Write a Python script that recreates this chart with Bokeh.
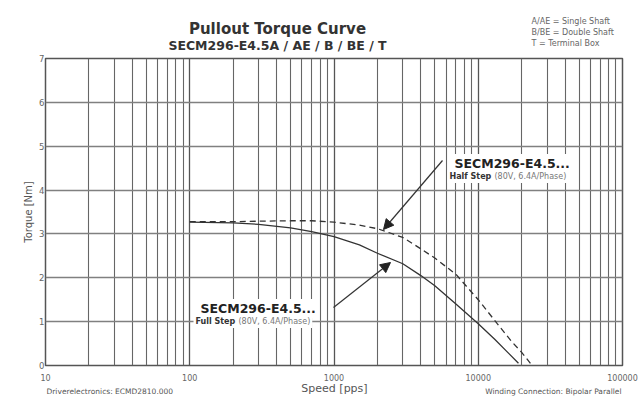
from bokeh.plotting import figure
from bokeh.models import FixedTicker, Label, Arrow, NormalHead, Range1d
from bokeh.layouts import column
from bokeh.embed import file_html
from bokeh.resources import INLINE

# ---- data ----
full_speed = [100, 200, 300, 500, 700, 1000, 1500, 2000, 3000, 4000, 5000, 7000, 10000, 13000, 16000, 19000]
full_torque = [3.27, 3.25, 3.22, 3.14, 3.05, 2.94, 2.75, 2.56, 2.32, 2.05, 1.82, 1.40, 0.95, 0.60, 0.30, 0.05]
half_speed = [100, 200, 300, 500, 700, 1000, 1500, 2000, 3000, 4000, 5000, 7000, 10000, 13500, 17000, 20000, 23000]
half_torque = [3.28, 3.28, 3.29, 3.30, 3.30, 3.27, 3.20, 3.12, 2.92, 2.66, 2.45, 2.08, 1.50, 0.96, 0.55, 0.30, 0.05]
x_ticks = [10, 100, 1000, 10000, 100000]
x_tick_labels = ["10", "100", "1000", "10000", "100000"]
y_ticks = [0, 1, 2, 3, 4, 5, 6, 7]

title = "Pullout Torque Curve"
subtitle = "SECM296-E4.5A / AE / B / BE / T"
notes = ["A/AE = Single Shaft", "B/BE = Double Shaft", "T = Terminal Box"]
x_label = "Speed [pps]"
y_label = "Torque [Nm]"
footer_left = "Driverelectronics: ECMD2810.000"
footer_right = "Winding Connection: Bipolar Parallel"

FONT = "DejaVu Sans"
W = 639
FRAME_L, FRAME_R = 45, 622   # page x of the plot frame edges


def text_panel(height):
    # frames in a column are aligned with the chart's frame, so map page x onto it
    f = figure(width=W, height=height, x_range=Range1d(FRAME_L, FRAME_R), y_range=Range1d(0, height),
               output_backend="svg", toolbar_location=None, x_axis_location=None,
               y_axis_location=None, min_border=0,
               min_border_left=FRAME_L, min_border_right=W - FRAME_R)
    f.grid.visible = False
    f.outline_line_color = None
    f.background_fill_color = "white"
    f.border_fill_color = "white"
    return f


def lab(fig, x, y, text, size, style="normal", color="#222222", align="left", units="data",
        bg=None):
    fig.add_layout(Label(x=x, y=y, x_units=units, y_units=units, text=text, text_font=FONT,
                         text_font_size=size, text_font_style=style, text_color=color,
                         text_align=align, text_baseline="middle",
                         background_fill_color=bg, padding=2 if bg else 0))


# ---- header ----
HH = 53
head = text_panel(HH)
lab(head, 277, HH - 28, title, "15px", "bold", "#333333", "center")
lab(head, 277, HH - 45, subtitle, "12.5px", "bold", "#333333", "center")
for i, n in enumerate(notes):
    lab(head, 531, HH - 21 - 11 * i, n, "8px", "normal", "#666666")

# ---- main chart ----
p = figure(width=W, height=330, x_axis_type="log", x_range=(10, 100000), y_range=(0, 7),
           output_backend="svg", toolbar_location=None,
           min_border_left=FRAME_L, min_border_right=W - FRAME_R, min_border_top=5,
           min_border_bottom=18)
p.background_fill_color = "white"
p.border_fill_color = "white"
p.outline_line_color = "#555555"
p.outline_line_width = 1.5

minor = [m * d for d in [10, 100, 1000, 10000] for m in range(2, 10)]
p.xaxis.ticker = FixedTicker(ticks=x_ticks, minor_ticks=minor)
p.xaxis.major_label_overrides = {t: l for t, l in zip(x_ticks, x_tick_labels)}
p.yaxis.ticker = FixedTicker(ticks=y_ticks)

p.xgrid.grid_line_color = "#555555"
p.xgrid.grid_line_width = 1.3
p.xgrid.minor_grid_line_color = "#666666"
p.xgrid.minor_grid_line_width = 1.1
p.ygrid.grid_line_color = "#808080"
p.ygrid.grid_line_width = 1.5

for ax in (p.xaxis[0], p.yaxis[0]):
    ax.axis_line_color = None
    ax.major_tick_line_color = None
    ax.minor_tick_line_color = None
    ax.major_tick_out = 0
    ax.major_label_text_font = FONT
    ax.major_label_text_color = "#666666"
p.xaxis.major_label_text_font_size = "8px"
p.xaxis.major_label_standoff = 4
p.yaxis.major_label_text_font_size = "8.5px"
p.yaxis.major_label_standoff = 1
p.yaxis.axis_label = y_label
p.yaxis.axis_label_text_font = FONT
p.yaxis.axis_label_text_font_style = "normal"
p.yaxis.axis_label_text_color = "#555555"
p.yaxis.axis_label_text_font_size = "10px"
p.yaxis.axis_label_standoff = 2

p.line(half_speed, half_torque, line_color="#333333", line_width=1.3, line_dash="6 4")
p.line(full_speed, full_torque, line_color="#333333", line_width=1.3)

# curve annotations (screen units relative to the plot frame)
lab(p, 407, 202, "SECM296-E4.5...", "12.5px", "bold", "#222222", units="screen", bg="white")
lab(p, 402, 189, "Half Step", "8px", "bold", "#333333", units="screen", bg="white")
lab(p, 447, 189, "(80V, 6.4A/Phase)", "8px", "normal", "#777777", units="screen", bg="white")
lab(p, 153, 57, "SECM296-E4.5...", "12.5px", "bold", "#222222", units="screen", bg="white")
lab(p, 148, 44, "Full Step", "8px", "bold", "#333333", units="screen", bg="white")
lab(p, 191, 44, "(80V, 6.4A/Phase)", "8px", "normal", "#777777", units="screen", bg="white")

hd = dict(size=10, fill_color="#222222", line_color="#222222")
p.add_layout(Arrow(x_start=397, y_start=205, x_end=338, y_end=136,
                   start_units="screen", end_units="screen",
                   line_width=1.2, line_color="#333333", end=NormalHead(**hd)))
p.add_layout(Arrow(x_start=288, y_start=58, x_end=345, y_end=103,
                   start_units="screen", end_units="screen",
                   line_width=1.2, line_color="#333333", end=NormalHead(**hd)))

# ---- footer ----
FH = 22
foot = text_panel(FH)
lab(foot, 334, FH - 5, x_label, "11px", "normal", "#555555", "center")
lab(foot, 46, FH - 8, footer_left, "7.5px", "normal", "#555555")
lab(foot, 621, FH - 8, footer_right, "7.5px", "normal", "#555555", "right")

layout = column(head, p, foot, spacing=0)
open("out.html", "w").write(file_html(layout, INLINE))
